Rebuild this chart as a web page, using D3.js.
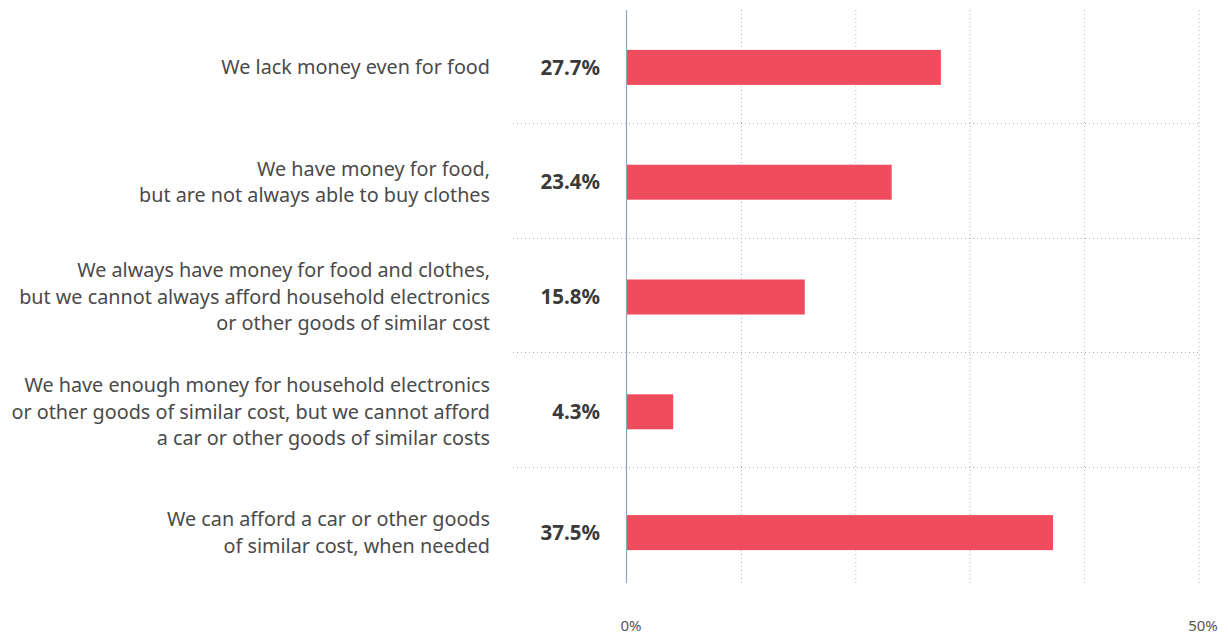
<!DOCTYPE html>
<html><head><meta charset="utf-8">
<script src="https://cdn.jsdelivr.net/npm/d3@7"></script>
<style>body{margin:0;background:#fff;} svg{display:block;}</style>
</head><body>
<svg id="c" width="1229" height="635"></svg>
<script>
const categories = [
  ["We lack money even for food"],
  ["We have money for food,", "but are not always able to buy clothes"],
  ["We always have money for food and clothes,", "but we cannot always afford household electronics", "or other goods of similar cost"],
  ["We have enough money for household electronics", "or other goods of similar cost, but we cannot afford", "a car or other goods of similar costs"],
  ["We can afford a car or other goods", "of similar cost, when needed"]
];
const values = [27.7, 23.4, 15.8, 4.3, 37.5];
const tickValues = [0, 10, 20, 30, 40, 50];
const tickLabels = {0: "0%", 50: "50%"};

const svg = d3.select("#c");
const font = "'Noto Sans', 'Open Sans', sans-serif";
const x = d3.scaleLinear().domain([0, 50]).range([627, 1199]);
const y = d3.scaleBand().domain(d3.range(values.length)).range([8, 582]).paddingInner(0).paddingOuter(0);
const gridColor = "#9fb2c6";

// vertical grid
svg.append("g").selectAll("line").data(tickValues.filter(d => d > 0)).join("line")
  .attr("x1", d => x(d)).attr("x2", d => x(d)).attr("y1", 10).attr("y2", 583)
  .attr("stroke", gridColor).attr("stroke-width", 1).attr("stroke-dasharray", "1,3");

// horizontal separators
svg.append("g").selectAll("line").data(d3.range(1, values.length)).join("line")
  .attr("x1", 513).attr("x2", 1199).attr("y1", d => Math.round(y(d)) + 0.5).attr("y2", d => Math.round(y(d)) + 0.5)
  .attr("stroke", gridColor).attr("stroke-width", 1).attr("stroke-dasharray", "1,3");

// bars
const bh = 35;
const cyOf = i => y(i) + y.bandwidth() / 2 + 2 + (i === values.length - 1 ? 6 : 0);
svg.append("g").selectAll("rect").data(values).join("rect")
  .attr("x", x(0)).attr("width", d => x(d) - x(0) - 3)
  .attr("y", (d, i) => cyOf(i) - bh / 2).attr("height", bh)
  .attr("fill", "#ef4d5e");

// zero axis
svg.append("line").attr("x1", x(0) - 0.5).attr("x2", x(0) - 0.5).attr("y1", 10).attr("y2", 583)
  .attr("stroke", "#8fa6bd").attr("stroke-width", 1.2);

// value labels
svg.append("g").selectAll("text").data(values).join("text")
  .attr("x", 600).attr("y", (d, i) => cyOf(i))
  .attr("dy", "0.35em").attr("text-anchor", "end")
  .attr("font-family", font).attr("font-weight", 700).attr("font-size", 20.5)
  .attr("fill", "#3a3a3a").text(d => d.toFixed(1) + "%");

// category labels
const lh = 26.5;
const cg = svg.append("g").selectAll("text").data(categories).join("text")
  .attr("text-anchor", "end").attr("font-family", font).attr("font-size", 19.8).attr("fill", "#4a4a4a");
cg.each(function(lines, i) {
  const cy = cyOf(i);
  const start = cy - (lines.length - 1) * lh / 2;
  d3.select(this).selectAll("tspan").data(lines).join("tspan")
    .attr("x", 490).attr("y", (d, j) => start + j * lh).attr("dy", "0.35em").text(d => d);
});

// axis tick labels
svg.append("g").selectAll("text").data(tickValues.filter(d => tickLabels[d])).join("text")
  .attr("x", d => x(d) + 4).attr("y", 626).attr("dy", "0.35em").attr("text-anchor", "middle")
  .attr("font-family", font).attr("font-size", 15).attr("fill", "#555")
  .text(d => tickLabels[d]);
</script>
</body></html>
